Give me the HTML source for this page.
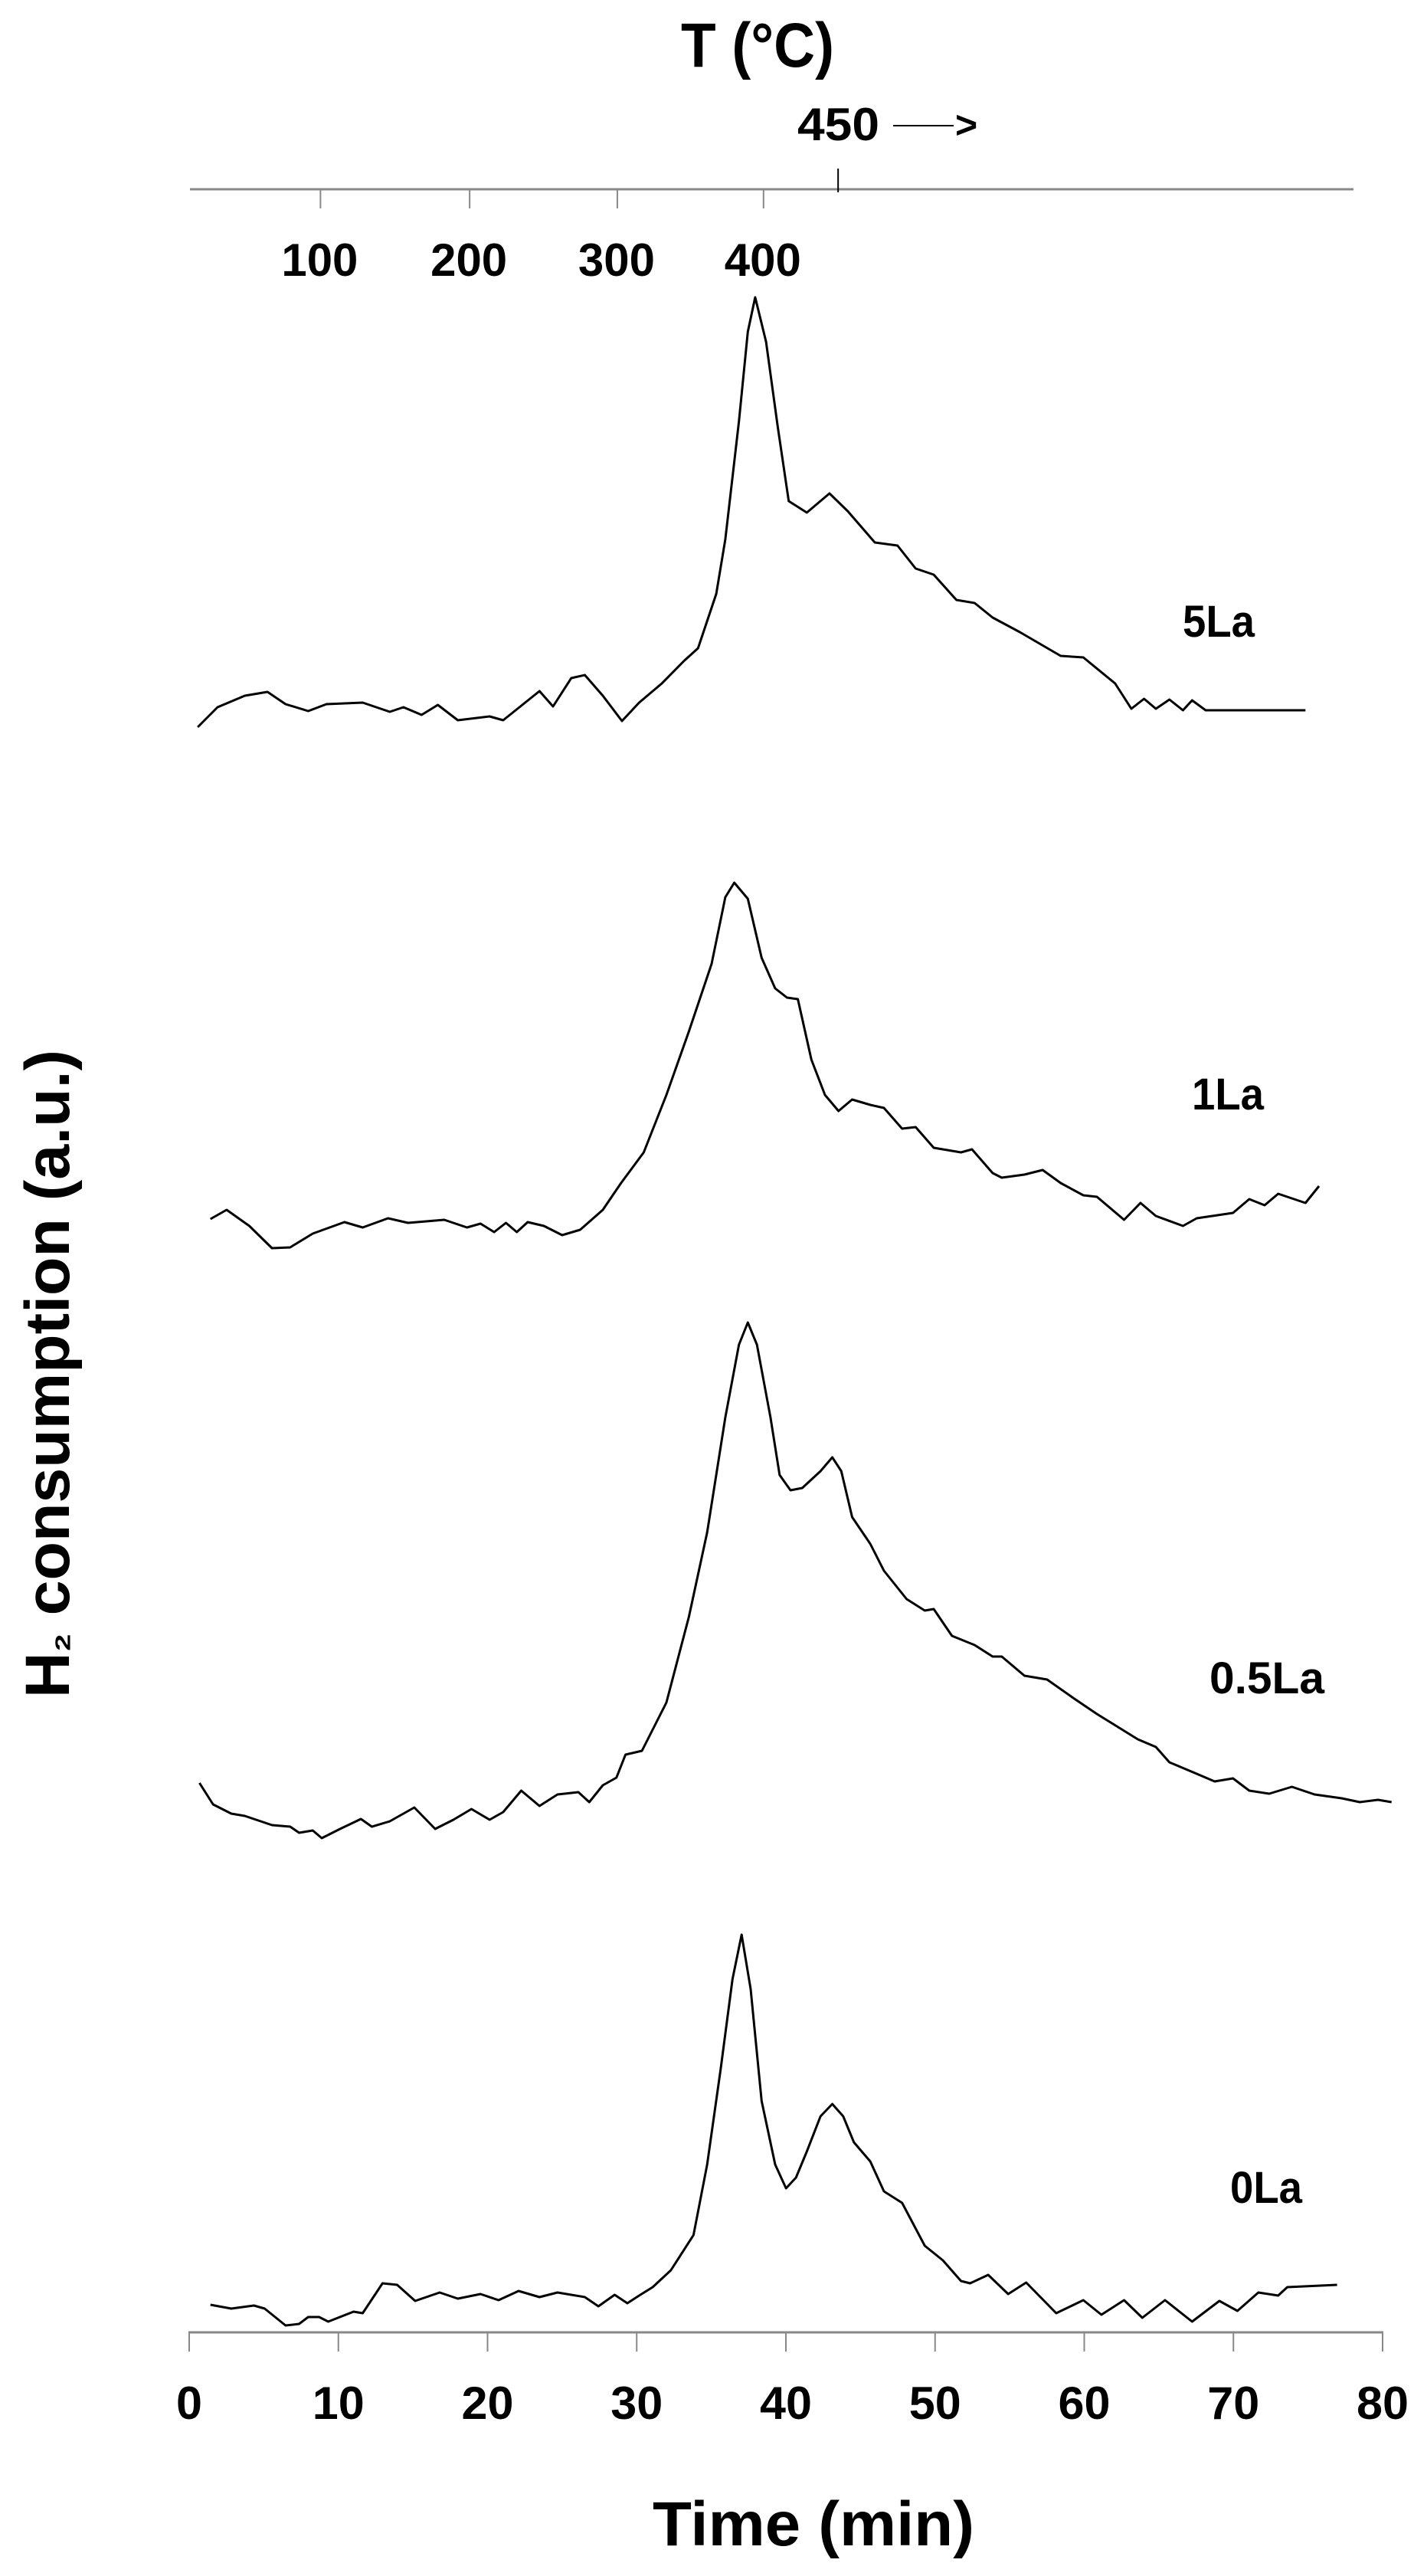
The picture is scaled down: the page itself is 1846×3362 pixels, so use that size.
<!DOCTYPE html>
<html><head><meta charset="utf-8">
<style>
html,body{margin:0;padding:0;background:#fff;}
svg{display:block;}
text{font-family:"Liberation Sans",sans-serif;font-weight:bold;fill:#000;}
</style></head>
<body>
<svg id="chart" width="1846" height="3362" viewBox="0 0 1846 3362" xmlns="http://www.w3.org/2000/svg">
  <g id="top-axis"></g>
  <g id="bottom-axis"></g>
  <g id="series"></g>
  <text x="989" y="87" font-size="82" text-anchor="middle" textLength="200" lengthAdjust="spacingAndGlyphs">T (°C)</text>
  <text x="1062" y="3322" font-size="82" text-anchor="middle" textLength="420" lengthAdjust="spacingAndGlyphs">Time (min)</text>
  <text transform="translate(90,1793) rotate(-90)" x="0" y="0" font-size="82" text-anchor="middle" textLength="846" lengthAdjust="spacingAndGlyphs">H<tspan font-size="56" dy="0">₂</tspan> consumption (a.u.)</text>
</svg>
<script>
// Time axis
const timeTicks = [0, 10, 20, 30, 40, 50, 60, 70, 80];
// Temperature axis ticks (°C) and their time positions (min)
const tempTickLabels = ["100", "200", "300", "400"];
const tempTickTimes = [8.8, 18.8, 28.7, 38.5];
const tempMarkLabel = "450";
const tempMarkTime = 43.5;

// Series: time (min) and signal (a.u., relative to each trace's own baseline)
const names = ["5La", "1La", "0.5La", "0La"];
const t5 = [0.57,1.9,3.73,5.25,6.46,7.98,9.2,11.63,13.45,14.36,15.58,16.67,18.01,20.14,21.05,23.48,24.39,25.61,26.52,27.73,29.01,30.16,31.68,33.2,34.11,35.33,35.94,36.85,37.45,37.94,38.67,39.46,40.19,41.4,42.92,44.14,45.96,47.48,48.7,49.91,51.43,52.65,53.86,55.68,58.42,59.94,62.07,63.16,64.01,64.8,65.71,66.62,67.23,68.14,74.83];
const v5 = [0.01,0.27,0.42,0.47,0.31,0.22,0.31,0.33,0.21,0.27,0.17,0.30,0.10,0.15,0.10,0.48,0.28,0.65,0.69,0.42,0.09,0.33,0.58,0.88,1.04,1.75,2.46,4.00,5.17,5.62,5.04,3.92,2.96,2.81,3.06,2.83,2.42,2.38,2.08,2.00,1.67,1.63,1.44,1.25,0.94,0.92,0.58,0.25,0.38,0.25,0.37,0.23,0.36,0.23,0.23];
const t1 = [1.42,2.51,4.03,5.55,6.77,8.28,10.41,11.63,13.33,14.67,17.1,18.62,19.53,20.44,21.23,21.96,22.69,23.78,25.0,26.21,27.73,28.95,30.47,31.99,33.5,35.02,35.94,36.54,37.45,38.37,39.28,40.07,40.8,41.71,42.62,43.53,44.44,45.66,46.57,47.79,48.7,49.91,51.74,52.47,53.86,54.47,55.99,57.21,58.42,59.94,60.85,62.67,63.77,64.8,66.62,67.54,69.97,71.06,72.09,73.0,74.83,75.74];
const v1 = [0.39,0.51,0.30,0.01,0.02,0.20,0.35,0.28,0.40,0.34,0.38,0.28,0.33,0.22,0.34,0.22,0.35,0.30,0.18,0.25,0.51,0.86,1.26,2.01,2.84,3.72,4.59,4.78,4.57,3.80,3.40,3.28,3.26,2.47,2.01,1.80,1.95,1.88,1.84,1.57,1.59,1.32,1.26,1.30,0.99,0.93,0.97,1.03,0.86,0.70,0.68,0.38,0.60,0.43,0.30,0.40,0.47,0.65,0.57,0.72,0.60,0.82];
const t05 = [0.69,1.6,2.82,3.73,5.55,6.77,7.37,8.28,8.89,10.11,11.51,12.24,13.45,15.09,16.49,17.71,18.92,20.14,21.05,22.26,23.48,24.69,26.09,26.82,27.73,28.64,29.25,30.35,31.99,33.5,34.72,35.94,36.85,37.45,38.06,38.97,39.58,40.31,41.1,42.32,43.11,43.71,44.44,45.66,46.57,48.09,49.31,49.91,51.13,52.65,53.86,54.47,55.99,57.51,59.33,60.85,63.59,64.8,65.71,67.54,68.74,69.97,71.06,72.4,73.92,75.44,77.26,78.47,79.69,80.6];
const v05 = [0.73,0.45,0.33,0.30,0.18,0.16,0.08,0.11,0.01,0.13,0.26,0.16,0.23,0.41,0.13,0.25,0.39,0.25,0.35,0.63,0.43,0.58,0.61,0.48,0.70,0.80,1.10,1.15,1.78,2.90,4.00,5.50,6.45,6.74,6.45,5.50,4.75,4.55,4.58,4.80,4.98,4.80,4.20,3.85,3.50,3.13,2.98,3.00,2.65,2.53,2.38,2.38,2.13,2.08,1.83,1.63,1.30,1.20,1.00,0.85,0.75,0.79,0.63,0.59,0.68,0.58,0.53,0.48,0.51,0.48];
const t0 = [1.42,2.82,4.34,5.06,6.46,7.37,7.98,8.71,9.32,11.02,11.63,12.96,13.94,15.15,16.79,18.01,19.53,20.74,22.08,23.48,24.69,26.52,27.43,28.52,29.37,30.16,31.07,32.29,33.81,34.72,35.63,36.42,37.03,37.64,38.37,39.28,40.01,40.68,41.4,42.32,43.11,43.84,44.56,45.66,46.57,47.79,49.31,50.52,51.74,52.35,53.56,54.9,56.11,58.12,59.94,61.15,62.67,63.89,65.41,67.23,69.06,70.27,71.67,73.0,73.61,76.95];
const v0 = [0.32,0.27,0.31,0.27,0.05,0.07,0.16,0.16,0.10,0.23,0.21,0.60,0.58,0.37,0.48,0.40,0.46,0.38,0.50,0.42,0.48,0.42,0.30,0.45,0.34,0.44,0.55,0.77,1.23,2.15,3.40,4.57,5.15,4.44,2.98,2.15,1.84,1.98,2.32,2.78,2.94,2.78,2.44,2.19,1.80,1.65,1.09,0.90,0.63,0.60,0.71,0.46,0.61,0.21,0.38,0.19,0.38,0.15,0.38,0.10,0.37,0.24,0.48,0.44,0.55,0.58];

const seriesT = [t5, t1, t05, t0];
const seriesV = [v5, v1, v05, v0];

// Layout
const X0 = 247, X1 = 1805, TMIN = 0, TMAX = 80;
const PXPERUNIT = 100;
const baselines = [950, 1630, 2400, 3040];
const labelPos = [[1591, 831], [1603, 1448], [1654, 2210], [1653, 2875]];
const xScale = t => X0 + (t - TMIN) / (TMAX - TMIN) * (X1 - X0);
const yScale = (i, v) => baselines[i] - v * PXPERUNIT;

const NS = "http://www.w3.org/2000/svg";
function mk(tag, attrs, parent) {
  const el = document.createElementNS(NS, tag);
  for (const k in attrs) el.setAttribute(k, attrs[k]);
  parent.appendChild(el);
  return el;
}

// Bottom axis
const ba = document.getElementById("bottom-axis");
const axisY = 3044;
let line = mk("line", {x1: xScale(TMIN) - 1, x2: xScale(TMAX) + 1, y1: axisY, y2: axisY, stroke: "#888", "stroke-width": 3}, ba);


timeTicks.forEach(t => {
  const tk = mk("line", {x1: xScale(t), x2: xScale(t), y1: axisY, y2: axisY + 25, stroke: "#888", "stroke-width": 2}, ba);
  
  
  const lb = mk("text", {x: xScale(t), y: 3157, "font-size": 60, "text-anchor": "middle", textLength: String(t).length * 34, lengthAdjust: "spacingAndGlyphs"}, ba);
  lb.textContent = String(t);
  
  
});

// Top axis
const ta = document.getElementById("top-axis");
const topY = 247;
line = mk("line", {x1: 248, x2: 1767, y1: topY, y2: topY, stroke: "#888", "stroke-width": 3}, ta);


tempTickLabels.forEach((lab, i) => {
  const x = xScale(tempTickTimes[i]);
  const tk = mk("line", {x1: x, x2: x, y1: topY, y2: topY + 25, stroke: "#888", "stroke-width": 2}, ta);
  
  
  const lb = mk("text", {x: x - 1, y: 360, "font-size": 60, "text-anchor": "middle", textLength: 100, lengthAdjust: "spacingAndGlyphs"}, ta);
  lb.textContent = lab;
  
  
});
{
  const x = xScale(tempMarkTime);
  const tk = mk("line", {x1: x, x2: x, y1: 220, y2: 251, stroke: "#000", "stroke-width": 2}, ta);
  
  
  const lb = mk("text", {x: 1041, y: 183, "font-size": 60, textLength: 107, lengthAdjust: "spacingAndGlyphs"}, ta);
  lb.textContent = tempMarkLabel;
  
  
  const ar = mk("line", {x1: 1166, x2: 1245, y1: 164, y2: 164, stroke: "#000", "stroke-width": 2}, ta);
  
  
  const ah = mk("text", {x: 1247, y: 180, "font-size": 50}, ta);
  ah.textContent = ">";
  
  
}

// Series
const sg = document.getElementById("series");
names.forEach((nm, i) => {
  const ts = seriesT[i], vs = seriesV[i];
  let d = "";
  ts.forEach((t, j) => { d += (j ? "L" : "M") + xScale(t).toFixed(1) + " " + yScale(i, vs[j]).toFixed(1); });
  const p = mk("path", {d: d, fill: "none", stroke: "#000", "stroke-width": 3, "stroke-linejoin": "round"}, sg);
  
  
  const lb = mk("text", {x: labelPos[i][0], y: labelPos[i][1], "font-size": 58, "text-anchor": "middle", textLength: nm.length * 28 + 10, lengthAdjust: "spacingAndGlyphs"}, sg);
  lb.textContent = nm;
  
  
});
</script>
</body></html>
